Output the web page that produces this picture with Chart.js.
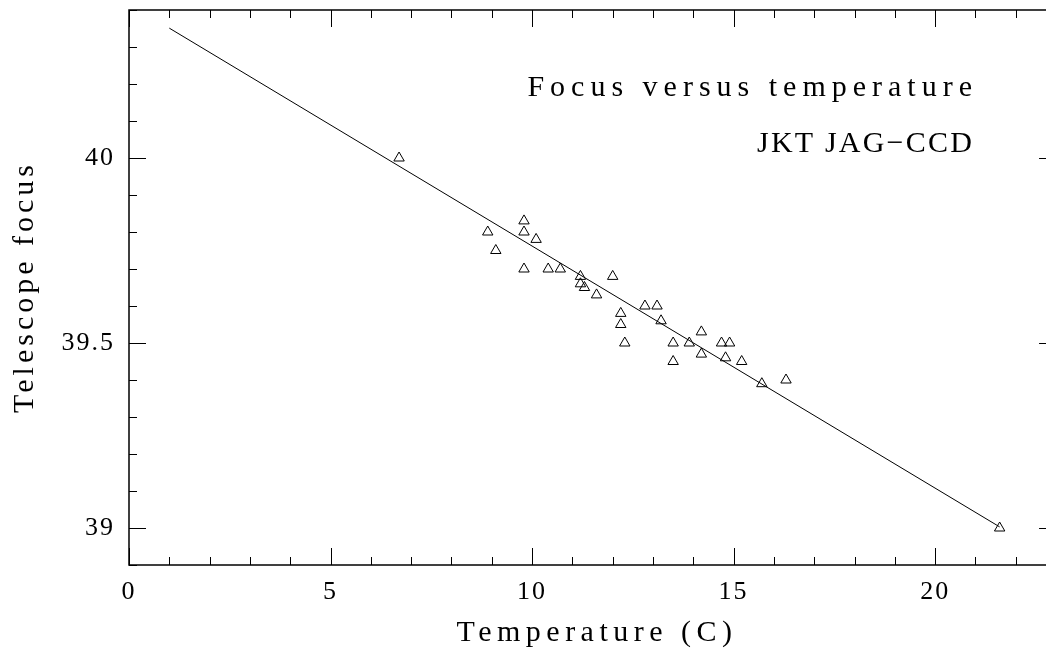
<!DOCTYPE html>
<html>
<head>
<meta charset="utf-8">
<title>Focus versus temperature</title>
<script src="https://cdn.jsdelivr.net/npm/chart.js@4/dist/chart.umd.min.js"></script>
<style>
    html, body { margin: 0; padding: 0; background: #ffffff; }
    #grafico { display: block; }
</style>
</head>
<body>
<canvas id="grafico" width="1046" height="648"></canvas>
<script>
// Datos (temperatura en C, foco del telescopio)
const temperaturas = [6.7, 8.9, 9.1, 9.8, 9.8, 9.8, 10.1, 10.4, 10.7, 11.2, 11.2, 11.3, 11.6, 12.0, 12.2, 12.2,
    12.3, 12.8, 13.1, 13.2, 13.5, 13.5, 13.9, 14.2, 14.2, 14.7, 14.8, 14.9, 15.2, 15.7, 16.3, 21.6];
const focos = [40.00, 39.80, 39.75, 39.83, 39.80, 39.70, 39.78, 39.70, 39.70, 39.68, 39.66, 39.65, 39.63, 39.68, 39.58, 39.55,
    39.50, 39.60, 39.60, 39.56, 39.50, 39.45, 39.50, 39.53, 39.47, 39.50, 39.46, 39.50, 39.45, 39.39, 39.40, 39.00];

// Recta de ajuste (extremos)
const ajusteX = [1.0, 21.6];
const ajusteY = [40.351, 39.003];

// Etiquetas de los ejes
const ticksX = [0, 5, 10, 15, 20];
const ticksY = [39, 39.5, 40];

const tituloX = "Temperature (C)";
const tituloY = "Telescope focus";
const anotaciones = ["Focus versus temperature", "JKT JAG\u2212CCD"];

// El marco original llega hasta x = 23, un poco fuera de la imagen
const limiteX = 23;

const fuente = '"Liberation Serif", "DejaVu Serif", serif';

// Quitar el relleno automático que Chart.js deja para las etiquetas
function sinRelleno(scale) {
    scale.paddingLeft = 0;
    scale.paddingRight = 0;
    scale.paddingTop = 0;
    scale.paddingBottom = 0;
}

// Texto con espaciado entre letras
function texto(ctx, t, x, y, espaciado) {
    ctx.letterSpacing = espaciado + 'px';
    ctx.fillText(t, x, y);
}

// Plugin para el marco y las marcas tipo PGPLOT (hacia dentro, en los cuatro lados)
const marcoPGPLOT = {
    id: 'marcoPGPLOT',
    beforeDraw(chart) {
        chart.ctx.letterSpacing = '2px';
    },
    afterDraw(chart) {
        const { ctx, chartArea: a, scales: { x, y } } = chart;
        const derecha = x.getPixelForValue(limiteX);
        ctx.save();
        ctx.strokeStyle = '#000000';
        ctx.lineWidth = 1;
        ctx.beginPath();
        for (let v = x.min; v <= limiteX + 1e-6; v += 1) {
            const px = Math.round(x.getPixelForValue(v)) + 0.5;
            const largo = Math.round(v) % 5 === 0 ? 17 : 8;
            ctx.moveTo(px, a.bottom); ctx.lineTo(px, a.bottom - largo);
            ctx.moveTo(px, a.top); ctx.lineTo(px, a.top + largo);
        }
        for (let i = 0; y.min + i * 0.1 <= y.max + 1e-6; i++) {
            const v = y.min + i * 0.1;
            const py = Math.round(y.getPixelForValue(v)) + 0.5;
            const mayor = Math.abs(v * 2 - Math.round(v * 2)) < 1e-6;
            const largo = mayor ? 17 : 8;
            ctx.moveTo(a.left, py); ctx.lineTo(a.left + largo, py);
            ctx.moveTo(derecha, py); ctx.lineTo(derecha - largo, py);
        }
        ctx.stroke();

        // Marco
        ctx.lineWidth = 1.5;
        ctx.strokeRect(a.left, a.top, derecha - a.left, a.bottom - a.top);

        // Títulos de los ejes y anotaciones
        ctx.fillStyle = '#000000';
        ctx.font = '30px ' + fuente;
        ctx.textBaseline = 'alphabetic';

        ctx.textAlign = 'center';
        texto(ctx, tituloX, 597, 641, 5.5);

        ctx.save();
        ctx.translate(33, 287);
        ctx.rotate(-Math.PI / 2);
        texto(ctx, tituloY, 0, 0, 4);
        ctx.restore();

        ctx.textAlign = 'right';
        texto(ctx, anotaciones[0], 978, 96, 6);
        texto(ctx, anotaciones[1], 974, 152, 2.2);
        ctx.restore();
    }
};

const ctx = document.getElementById("grafico").getContext("2d");
const grafico = new Chart(ctx, {
    type: 'scatter',
    data: {
        datasets: [
            {
                label: 'Focus',
                data: temperaturas.map((t, i) => ({ x: t, y: focos[i] })),
                pointStyle: 'triangle',
                pointRadius: 6,
                pointHoverRadius: 6,
                borderWidth: 1,
                borderColor: '#000000',
                backgroundColor: 'rgba(0,0,0,0)'
            },
            {
                label: 'Fit',
                type: 'line',
                data: ajusteX.map((t, i) => ({ x: t, y: ajusteY[i] })),
                borderColor: '#000000',
                borderWidth: 1,
                pointRadius: 0,
                fill: false
            }
        ]
    },
    options: {
        responsive: false,
        animation: false,
        events: [],
        layout: {
            autoPadding: false,
            padding: { top: 10, right: 0, left: 0, bottom: 0 }
        },
        plugins: {
            legend: { display: false },
            tooltip: { enabled: false }
        },
        scales: {
            x: {
                type: 'linear',
                min: 0,
                max: 22.75,
                afterBuildTicks: scale => { scale.ticks = ticksX.map(v => ({ value: v })); },
                afterFit: scale => { scale.height = 83; sinRelleno(scale); },
                grid: { display: false, drawTicks: false },
                border: { display: false },
                ticks: {
                    padding: 12,
                    color: '#000000',
                    maxRotation: 0,
                    font: { family: fuente, size: 26 },
                    callback: v => String(v)
                }
            },
            y: {
                type: 'linear',
                min: 38.9,
                max: 40.4,
                afterBuildTicks: scale => { scale.ticks = ticksY.map(v => ({ value: v })); },
                afterFit: scale => { scale.width = 129; sinRelleno(scale); },
                grid: { display: false, drawTicks: false },
                border: { display: false },
                ticks: {
                    padding: 14,
                    color: '#000000',
                    font: { family: fuente, size: 26 },
                    callback: v => String(v)
                }
            }
        }
    },
    plugins: [marcoPGPLOT]
});
</script>
</body>
</html>
